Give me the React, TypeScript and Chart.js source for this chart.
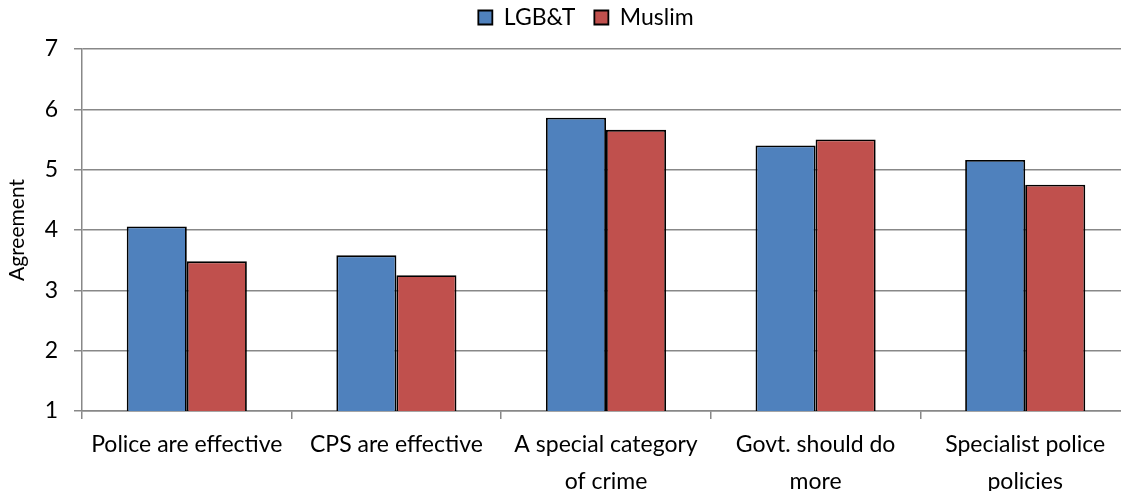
import React, { useEffect, useRef } from "react";
import { Chart, registerables } from "chart.js";

Chart.register(...registerables);

const categories: (string | string[])[] = [
  "Police are effective",
  "CPS are effective",
  ["A special category", "of crime"],
  ["Govt. should do", "more"],
  ["Specialist police", "policies"],
];
const seriesNames = ["LGB&T", "Muslim"];
const lgbtValues = [4.06, 3.58, 5.86, 5.4, 5.16];
const muslimValues = [3.48, 3.25, 5.66, 5.5, 4.75];
const yTicks = [1, 2, 3, 4, 5, 6, 7];

const FONT = "Lato";

const legendSpacer = {
  id: "legendSpacer",
  afterInit(chart: any) {
    const legend = chart.legend;
    if (!legend) return;
    const fit = legend.fit;
    legend.fit = function () {
      fit.call(this);
      this.height += 10;
    };
  },
  afterLayout(chart: any) {
    const legend = chart.legend;
    if (!legend) return;
    legend.left += 21;
    legend.right += 21;
  },
};

export default function App() {
  const ref = useRef<HTMLCanvasElement | null>(null);
  useEffect(() => {
    if (!ref.current) return;
    const chart = new Chart(ref.current, {
      type: "bar",
      data: {
        labels: categories,
        datasets: [
          {
            label: seriesNames[0],
            data: lgbtValues,
            backgroundColor: "#4F81BD",
            borderColor: "#000000",
            borderWidth: 1.8,
            categoryPercentage: 0.573,
            barPercentage: 1,
          },
          {
            label: seriesNames[1],
            data: muslimValues,
            backgroundColor: "#C0504D",
            borderColor: "#000000",
            borderWidth: 1.8,
            categoryPercentage: 0.573,
            barPercentage: 1,
          },
        ],
      },
      plugins: [legendSpacer],
      options: {
        responsive: false,
        animation: false,
        devicePixelRatio: 1,
        layout: { padding: { left: 0, right: 40, top: -13, bottom: 0 } },
        plugins: {
          tooltip: { enabled: false },
          legend: {
            display: true,
            position: "top",
            labels: {
              font: { family: FONT, size: 23 },
              color: "#000",
              boxWidth: 14,
              boxHeight: 14,
              padding: 19,
            },
          },
        },
        scales: {
          x: {
            type: "category",
            offset: true,
            grid: {
              display: true,
              drawOnChartArea: false,
              drawTicks: true,
              offset: true,
              tickLength: 8,
              color: "#888888",
              lineWidth: 1.5,
            },
            border: { color: "#888888", width: 1.5 },
            ticks: {
              font: { family: FONT, size: 23, lineHeight: 1.6 },
              color: "#000",
              padding: 7,
              maxRotation: 0,
              autoSkip: false,
            },
            afterFit: (s: any) => {
              s.height = 80;
            },
          },
          y: {
            min: 1,
            max: 7,
            afterBuildTicks: (s: any) => {
              s.ticks = yTicks.map((v) => ({ value: v }));
            },
            grid: {
              color: "#888888",
              lineWidth: 1.5,
              tickLength: 8,
            },
            border: { color: "#888888", width: 1.5 },
            ticks: {
              font: { family: FONT, size: 23 },
              color: "#000",
              padding: 16,
            },
            title: {
              display: true,
              text: "Agreement",
              font: { family: FONT, size: 21 },
              color: "#000",
              padding: { top: 5, bottom: 0 },
            },
            afterFit: (s: any) => {
              s.width = 82;
            },
          },
        },
      },
    });
    return () => chart.destroy();
  }, []);
  return (
    <div
      style={{
        position: "fixed",
        left: 0,
        top: 0,
        width: 1121,
        height: 491,
        overflow: "hidden",
        background: "#fff",
      }}
    >
      <canvas ref={ref} width={1170} height={491} style={{ display: "block" }} />
    </div>
  );
}
